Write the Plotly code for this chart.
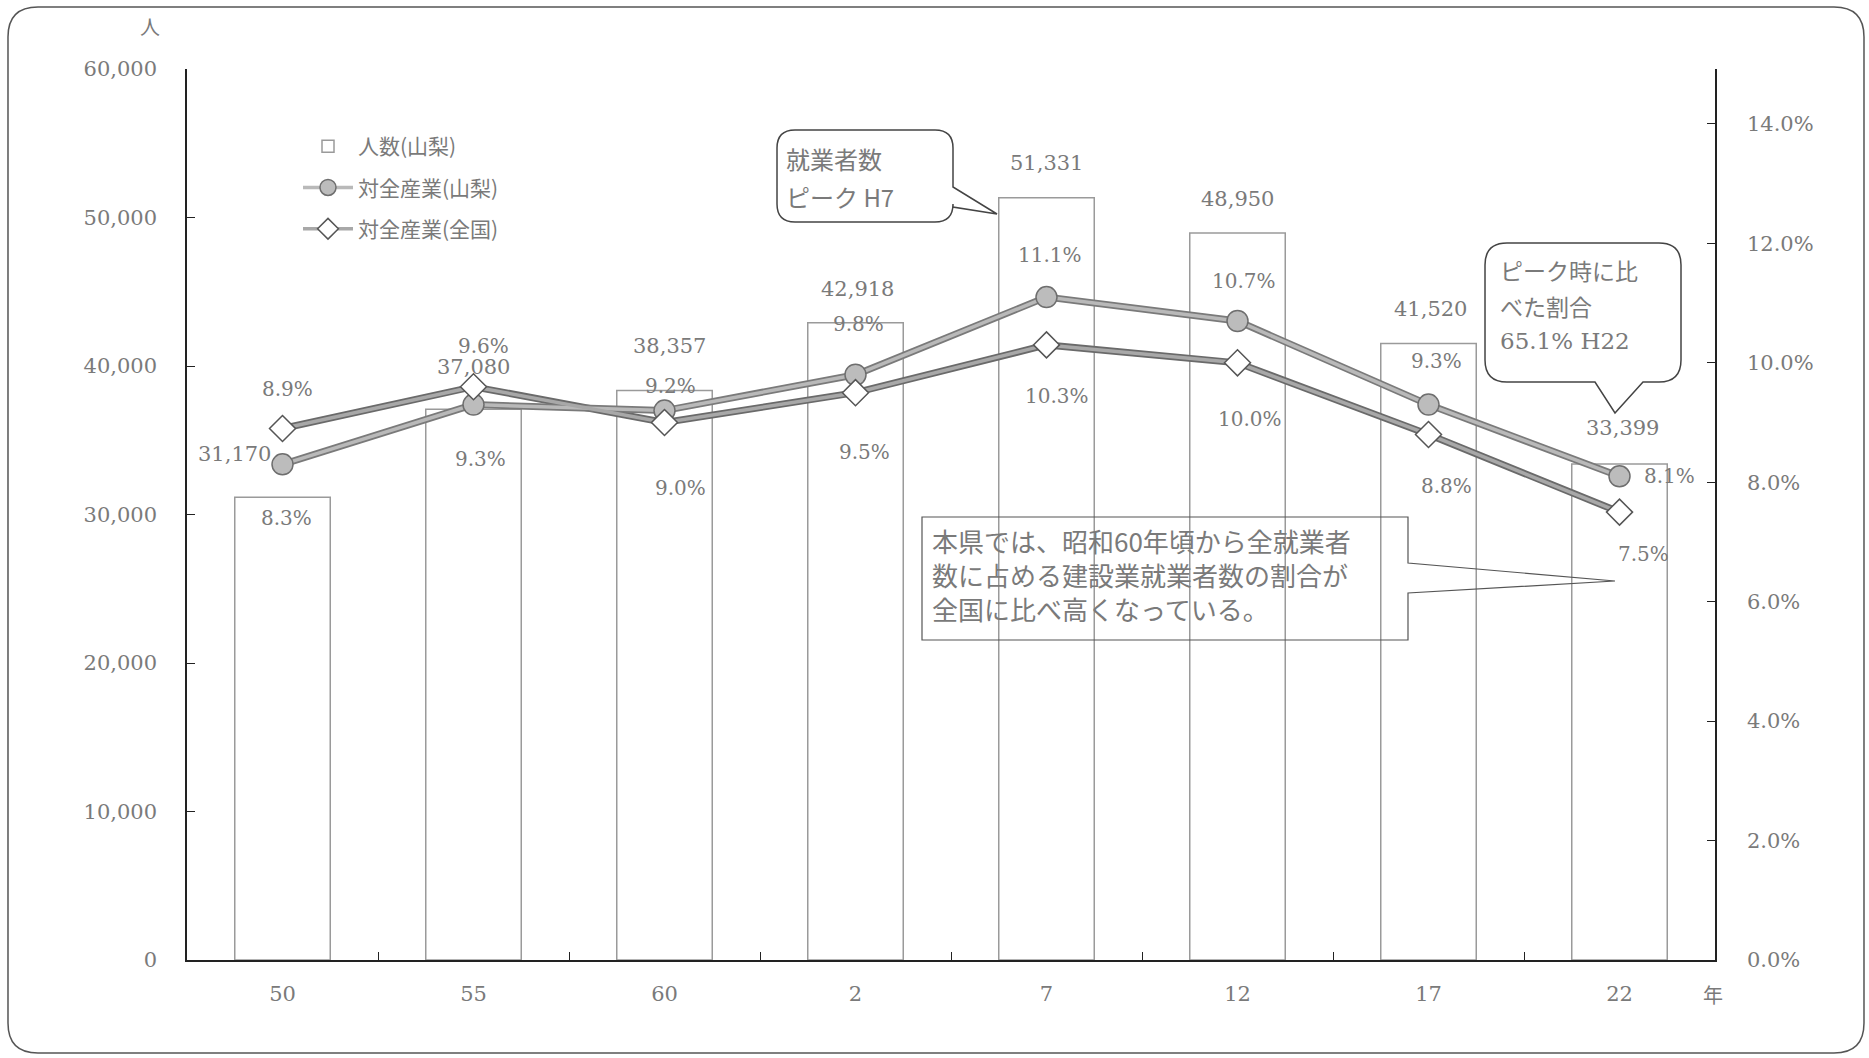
import plotly.graph_objects as go

# ---------------- data ----------------
categories = ["50", "55", "60", "2", "7", "12", "17", "22"]
workers_yamanashi = [31170, 37080, 38357, 42918, 51331, 48950, 41520, 33399]
share_yamanashi = [8.3, 9.3, 9.2, 9.8, 11.1, 10.7, 9.3, 8.1]
share_national = [8.9, 9.6, 9.0, 9.5, 10.3, 10.0, 8.8, 7.5]
bar_labels = ["31,170", "37,080", "38,357", "42,918", "51,331", "48,950", "41,520", "33,399"]
yamanashi_labels = ["8.3%", "9.3%", "9.2%", "9.8%", "11.1%", "10.7%", "9.3%", "8.1%"]
national_labels = ["8.9%", "9.6%", "9.0%", "9.5%", "10.3%", "10.0%", "8.8%", "7.5%"]
legend_names = ["人数(山梨)", "対全産業(山梨)", "対全産業(全国)"]

# ---------------- layout geometry (pixels) ----------------
W, H = 1869, 1058
L, R, T, B = 187, 1715, 69, 960

def px(X):
    return (X - L) / (R - L)

def py(Y):
    return (B - Y) / (B - T)

def pth(points):
    out = []
    for cmd, pts in points:
        if cmd == "Z":
            out.append("Z")
        else:
            out.append(cmd + " " + " ".join(f"{px(x):.5f},{py(y):.5f}" for x, y in pts))
    return " ".join(out)

TXT = "#7a7a7a"
NUMFONT = "DejaVu Serif, Noto Sans CJK JP"
JPFONT = "Noto Sans CJK JP, DejaVu Serif"

# label offsets (dx, dy up) in pixels
bar_off = [(-48, 43), (0, 42), (5, 44), (2, 34), (0, 35), (0, 34), (2, 34), (3, 36)]
yam_off = [(4, -54), (7, -54), (6, 25), (3, 51), (3, 42), (6, 40), (8, 44), (50, 0)]
nat_off = [(5, 40), (10, 41), (16, -65), (9, -59), (10, -51), (12, -56), (18, -52), (24, -42)]

fig = go.Figure()

fig.add_trace(go.Bar(
    x=categories, y=workers_yamanashi, name=legend_names[0], width=0.5,
    marker=dict(color="white", line=dict(color="#9a9a9a", width=1.5)),
    yaxis="y", legendgroup="a",
))

# outline under-lines (for the double-edged look)
fig.add_trace(go.Scatter(
    x=categories, y=share_national, mode="lines", yaxis="y2", showlegend=False,
    line=dict(color="#6a6a6a", width=7), hoverinfo="skip",
))
fig.add_trace(go.Scatter(
    x=categories, y=share_yamanashi, mode="lines", yaxis="y2", showlegend=False,
    line=dict(color="#7a7a7a", width=7), hoverinfo="skip",
))

fig.add_trace(go.Scatter(
    x=categories, y=share_yamanashi, mode="lines+markers", name=legend_names[1],
    yaxis="y2", legendgroup="b",
    line=dict(color="#b9b9b9", width=3.5),
    marker=dict(symbol="circle", size=21, color="#bcbcbc", line=dict(color="#6e6e6e", width=1.5)),
))
fig.add_trace(go.Scatter(
    x=categories, y=share_national, mode="lines+markers", name=legend_names[2],
    yaxis="y2", legendgroup="c",
    line=dict(color="#a8a8a8", width=3.5),
    marker=dict(symbol="diamond", size=20, color="white", line=dict(color="#555555", width=1.5)),
))

annotations = []
for i, c in enumerate(categories):
    dx, dy = bar_off[i]
    annotations.append(dict(x=i, y=workers_yamanashi[i], xref="x", yref="y", text=bar_labels[i],
                            showarrow=False, xshift=dx, yshift=dy,
                            font=dict(family=NUMFONT, size=21, color=TXT)))
    dx, dy = yam_off[i]
    annotations.append(dict(x=i, y=share_yamanashi[i], xref="x", yref="y2", text=yamanashi_labels[i],
                            showarrow=False, xshift=dx, yshift=dy,
                            font=dict(family=NUMFONT, size=20, color=TXT)))
    dx, dy = nat_off[i]
    annotations.append(dict(x=i, y=share_national[i], xref="x", yref="y2", text=national_labels[i],
                            showarrow=False, xshift=dx, yshift=dy,
                            font=dict(family=NUMFONT, size=20, color=TXT)))

def txt(X, Y, s, size=22, anchor="left", fam=JPFONT):
    annotations.append(dict(x=px(X), y=py(Y), xref="paper", yref="paper", text=s, showarrow=False,
                            xanchor=anchor, yanchor="middle", align="left",
                            font=dict(family=fam, size=size, color=TXT)))

# unit labels
txt(150, 26, "人", size=20, anchor="center")
txt(1713, 995, "年", size=20, anchor="center")

# callout 1
txt(784, 158, "就業者数", size=24)
txt(784, 196, "ピーク H7", size=24)
# callout 2
txt(1498, 270, "ピーク時に比", size=23)
txt(1498, 306, "べた割合", size=23)
txt(1498, 341, "65.1% H22", size=23, fam=NUMFONT)
# text box 3
txt(930, 574, "本県では、昭和60年頃から全就業者<br>数に占める建設業就業者数の割合が<br>全国に比べ高くなっている。", size=26)

shapes = []

def rbox(x0, y0, x1, y1, r, tail=None, side=None):
    pts = [("M", [(x0 + r, y0)]), ("L", [(x1 - r, y0)]), ("Q", [(x1, y0), (x1, y0 + r)])]
    if side == "right":
        pts += [("L", [tail[0]]), ("L", [tail[1]]), ("L", [tail[2]])]
    pts += [("L", [(x1, y1 - r)]), ("Q", [(x1, y1), (x1 - r, y1)])]
    if side == "bottom":
        pts += [("L", [tail[0]]), ("L", [tail[1]]), ("L", [tail[2]])]
    pts += [("L", [(x0 + r, y1)]), ("Q", [(x0, y1), (x0, y1 - r)]),
            ("L", [(x0, y0 + r)]), ("Q", [(x0, y0), (x0 + r, y0)]), ("Z", [])]
    return pth(pts)

line_style = dict(color="#444444", width=1.5)
shapes.append(dict(type="path", xref="paper", yref="paper", line=line_style,
                   path=rbox(777, 130, 953, 222, 18, [(953, 187), (997, 214), (953, 207)], "right")))
shapes.append(dict(type="path", xref="paper", yref="paper", line=line_style,
                   path=rbox(1485, 243, 1681, 382, 22, [(1643, 382), (1615, 413), (1595, 382)], "bottom")))
shapes.append(dict(type="path", xref="paper", yref="paper", line=dict(color="#555555", width=1.2),
                   path=pth([("M", [(922, 517)]), ("L", [(1408, 517)]), ("L", [(1408, 563)]),
                             ("L", [(1615, 581)]), ("L", [(1408, 593)]), ("L", [(1408, 640)]),
                             ("L", [(922, 640)]), ("Z", [])])))
# outer frame
shapes.append(dict(type="path", xref="paper", yref="paper", line=dict(color="#555555", width=1.5),
                   path=rbox(8, 7, 1864, 1053, 30)))

axis_font = dict(family=NUMFONT, size=21, color=TXT)

fig.update_layout(
    width=W, height=H,
    margin=dict(l=L, r=W - R, t=T, b=H - B, pad=0),
    paper_bgcolor="white", plot_bgcolor="white",
    showlegend=True,
    legend=dict(x=px(298), y=py(126), xanchor="left", yanchor="top",
                font=dict(family=JPFONT, size=21, color=TXT), tracegroupgap=11,
                bgcolor="rgba(0,0,0,0)", itemwidth=50),
    bargap=0.5,
    xaxis=dict(type="category", range=[-0.5, 7.5], showline=True, linecolor="#222222", linewidth=1.5,
               ticks="inside", tickson="boundaries", ticklen=8, tickcolor="#222222",
               tickfont=axis_font, ticklabelstandoff=14, showgrid=False, zeroline=False),
    yaxis=dict(range=[0, 60000], dtick=10000, tickformat=",", showline=True, linecolor="#222222",
               linewidth=1.5, ticks="inside", ticklen=8, tickcolor="#222222", tickfont=axis_font,
               ticklabelstandoff=24, showgrid=False, zeroline=False),
    yaxis2=dict(range=[0, 14.92], dtick=2, tickformat=".1f", ticksuffix="%", overlaying="y", side="right",
                showline=True, linecolor="#222222", linewidth=1.5, ticks="inside", ticklen=8,
                tickcolor="#222222", tickfont=axis_font, ticklabelstandoff=26, showgrid=False,
                zeroline=False),
    annotations=annotations,
    shapes=shapes,
)

fig.write_html("out.html")
